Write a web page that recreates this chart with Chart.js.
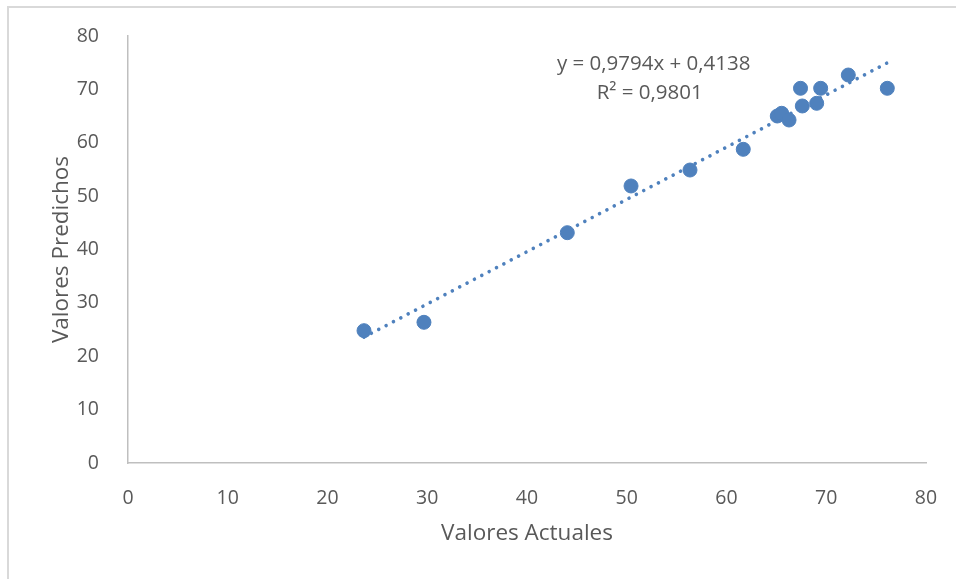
<!DOCTYPE html>
<html>
<head>
<meta charset="utf-8">
<script src="https://cdn.jsdelivr.net/npm/chart.js@4/dist/chart.umd.min.js"></script>
<style>
  html, body { margin: 0; padding: 0; background: #ffffff; }
  #wrap { position: relative; width: 956px; height: 579px; overflow: hidden; }
  #frame { position: absolute; left: 7px; top: 6px; width: 1000px; height: 700px;
           border-left: 2px solid #d9d9d9; border-top: 2px solid #d9d9d9; pointer-events: none; }
  canvas { position: absolute; left: 0; top: 0; }
</style>
</head>
<body>
<div id="wrap">
  <canvas id="chart" width="956" height="579"></canvas>
  <div id="frame"></div>
</div>
<script>
// Actual vs predicted values
const actual    = [23.66, 29.67, 44.04, 50.43, 56.34, 61.68, 65.09, 65.53, 66.27, 67.42, 67.60, 69.04, 69.44, 72.21, 76.12];
const predicted = [24.79, 26.36, 43.15, 51.90, 54.89, 58.77, 65.01, 65.52, 64.26, 70.20, 66.89, 67.39, 70.20, 72.69, 70.20];

// Linear trend line coefficients
const slope = 0.9794;
const intercept = 0.4138;
const rSquared = 0.9801;

const axisTicks = [0, 10, 20, 30, 40, 50, 60, 70, 80];

const pointColor = '#4F81BD';
const textColor = '#595959';
const fontFamily = '"Open Sans", "Liberation Sans", sans-serif';

const fmt = (v, d) => v.toFixed(d).replace('.', ',');

const points = actual.map((x, i) => ({ x: x, y: predicted[i] }));
const xMin = Math.min(...actual), xMax = Math.max(...actual);
const trend = [xMin, xMax].map(x => ({ x: x, y: slope * x + intercept }));

// Trend line equation, anchored in data coordinates
const equationLabel = {
  id: 'equationLabel',
  afterDatasetsDraw(chart) {
    const { ctx, scales } = chart;
    const cx = scales.x.getPixelForValue(52.7);
    const cy = scales.y.getPixelForValue(74.8);
    ctx.save();
    ctx.fillStyle = textColor;
    ctx.font = '20.5px ' + fontFamily;
    ctx.textAlign = 'center';
    ctx.textBaseline = 'middle';
    ctx.fillText('y = ' + fmt(slope, 4) + 'x + ' + fmt(intercept, 4), cx, cy);
    ctx.fillText('R² = ' + fmt(rSquared, 4), cx - 4, cy + 29);
    ctx.restore();
  }
};

new Chart(document.getElementById('chart'), {
  type: 'scatter',
  data: {
    datasets: [
      {
        type: 'line',
        data: trend,
        borderColor: pointColor,
        borderWidth: 3.6,
        borderCapStyle: 'round',
        borderDash: [0.01, 8.3],
        pointRadius: 0,
        fill: false,
        order: 2
      },
      {
        data: points,
        backgroundColor: pointColor,
        borderColor: pointColor,
        borderWidth: 1,
        pointRadius: 7,
        order: 1
      }
    ]
  },
  options: {
    responsive: false,
    animation: false,
    layout: { padding: { top: 36, right: 30, left: 0, bottom: 0 } },
    plugins: { legend: { display: false }, tooltip: { enabled: false } },
    scales: {
      x: {
        type: 'linear',
        min: 0, max: 80,
        afterBuildTicks: s => { s.ticks = axisTicks.map(v => ({ value: v })); },
        afterFit: s => { s.height = 116; },
        grid: { display: false },
        border: { display: true, color: '#bfbfbf', width: 1.5 },
        ticks: { color: textColor, font: { size: 19.5, family: fontFamily }, padding: 16, maxRotation: 0 },
        title: { display: true, text: 'Valores Actuales', color: textColor,
                 font: { size: 22.5, family: fontFamily }, padding: { top: 0, bottom: 32 } }
      },
      y: {
        type: 'linear',
        min: 0, max: 80,
        afterBuildTicks: s => { s.ticks = axisTicks.map(v => ({ value: v })); },
        afterFit: s => { s.width = 128; },
        grid: { display: false },
        border: { display: true, color: '#bfbfbf', width: 1.5 },
        ticks: { color: textColor, font: { size: 19.5, family: fontFamily }, padding: 21 },
        title: { display: true, text: 'Valores Predichos', color: textColor,
                 font: { size: 22.5, family: fontFamily }, padding: { top: 48, bottom: 0 } }
      }
    }
  },
  plugins: [equationLabel]
});
</script>
</body>
</html>
